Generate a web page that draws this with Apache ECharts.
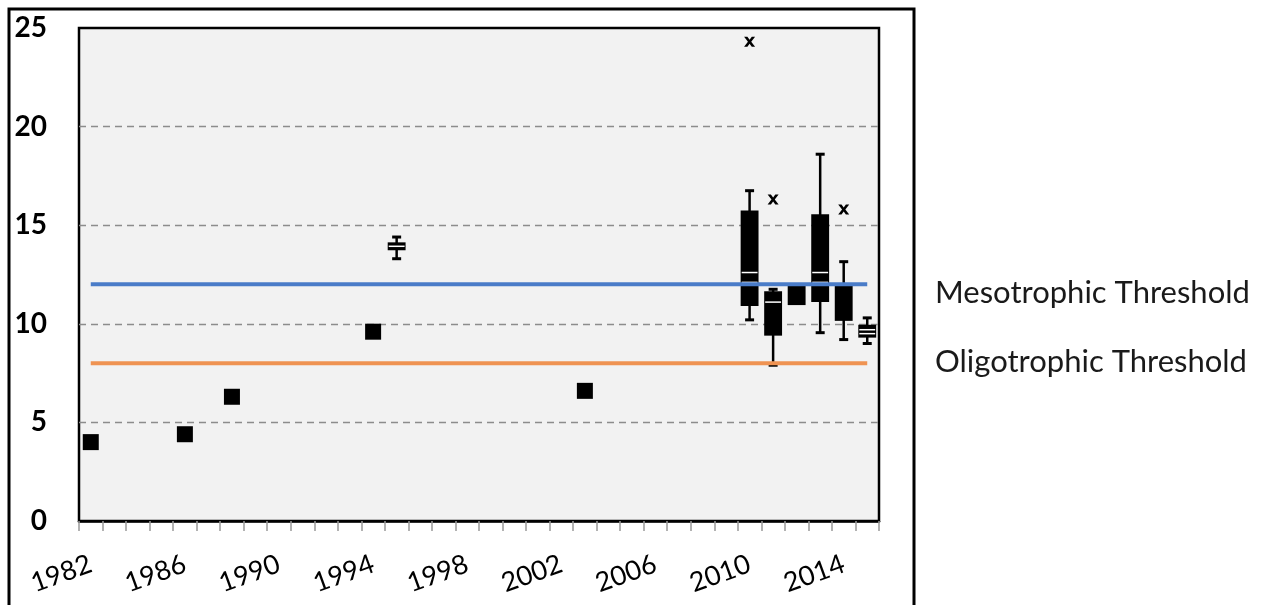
<!DOCTYPE html>
<html>
<head>
<meta charset="utf-8">
<script src="https://cdn.jsdelivr.net/npm/echarts@6/dist/echarts.min.js"></script>
<style>
html,body{margin:0;padding:0;background:#fff;}
#main{width:1265px;height:605px;}
</style>
</head>
<body>
<div id="main"></div>
<script>
// categories (one per year)
var years = ['1982','1983','1984','1985','1986','1987','1988','1989','1990','1991',
	'1992','1993','1994','1995','1996','1997','1998','1999','2000','2001','2002',
	'2003','2004','2005','2006','2007','2008','2009','2010','2011','2012','2013',
	'2014','2015'];
var yTicks = [0, 5, 10, 15, 20, 25];

// single samples
var pointYears = ['1982', '1986', '1988', '1994', '2003'];
var pointValues = [4.0, 4.4, 6.3, 9.6, 6.6];

// box plots
var boxYears  = ['1995', '2010', '2011', '2012', '2013', '2014', '2015'];
var boxMin    = [13.3, 10.2, 7.9, 11.0, 9.55, 9.2, 9.0];
var boxQ1     = [13.78, 10.95, 9.45, 11.0, 11.15, 10.2, 9.35];
var boxMedian = [13.93, 12.1, 11.1, null, 12.1, null, 9.5];
var boxMean   = [null, 12.6, null, null, 12.6, null, 9.7];
var boxQ3     = [14.08, 15.7, 11.6, 11.9, 15.5, 11.9, 9.9];
var boxMax    = [14.4, 16.75, 11.75, 11.9, 18.6, 13.15, 10.3];

// outliers
var outlierYears = ['2010', '2011', '2014'];
var outlierValues = [24.3, 16.3, 15.8];

// thresholds
var mesoThreshold = 12;
var oligoThreshold = 8;

var chart = echarts.init(document.getElementById('main'));

function renderBox(params, api) {
	var i = params.dataIndex;
	var cat = api.value(0);
	var w = api.size([1, 0])[0] * 0.76;
	var cap = 9;
	var x = api.coord([cat, boxQ1[i]])[0];
	var yMin = api.coord([cat, boxMin[i]])[1];
	var yQ1 = api.coord([cat, boxQ1[i]])[1];
	var yQ3 = api.coord([cat, boxQ3[i]])[1];
	var yMax = api.coord([cat, boxMax[i]])[1];
	var kids = [];
	kids.push({type: 'line', shape: {x1: x, y1: yMax, x2: x, y2: yMin},
		style: {stroke: '#000', lineWidth: 2.5}});
	if (boxMax[i] > boxQ3[i]) {
		kids.push({type: 'line', shape: {x1: x - cap / 2, y1: yMax, x2: x + cap / 2, y2: yMax},
			style: {stroke: '#000', lineWidth: 3}});
	}
	if (boxMin[i] < boxQ1[i]) {
		kids.push({type: 'line', shape: {x1: x - cap / 2, y1: yMin, x2: x + cap / 2, y2: yMin},
			style: {stroke: '#000', lineWidth: 3}});
	}
	kids.push({type: 'rect', shape: {x: x - w / 2, y: yQ3 - 1, width: w, height: yQ1 - yQ3 + 2},
		style: {fill: '#000'}});
	[boxMedian[i], boxMean[i]].forEach(function (v) {
		if (v == null) return;
		var yy = api.coord([cat, v])[1];
		kids.push({type: 'line', shape: {x1: x - w / 2 + 1, y1: yy, x2: x + w / 2 - 1, y2: yy},
			style: {stroke: '#fff', lineWidth: 1.5}});
	});
	return {type: 'group', children: kids};
}

var option = {
	animation: false,
	backgroundColor: '#fff',
	grid: {
		left: 79, right: 386, top: 28, bottom: 84,
		show: true,
		backgroundColor: '#f2f2f2',
		borderColor: '#000',
		borderWidth: 2.5
	},
	xAxis: {
		type: 'category',
		data: years,
		boundaryGap: true,
		axisLine: {lineStyle: {color: '#000', width: 2.5}},
		axisTick: {show: true, interval: 0, length: 10, lineStyle: {color: '#999', width: 1.5}},
		axisLabel: {
			interval: 3,
			rotate: 20,
			margin: 42,
			fontFamily: 'Lato',
			fontSize: 27,
			color: '#000'
		},
		splitLine: {show: false}
	},
	yAxis: {
		type: 'value',
		min: yTicks[0],
		max: yTicks[yTicks.length - 1],
		interval: 5,
		axisLine: {show: false},
		axisTick: {show: false},
		axisLabel: {
			margin: 32,
			fontFamily: 'Lato',
			fontWeight: 'bold',
			fontSize: 28,
			color: '#000'
		},
		splitLine: {
			show: true,
			showMinLine: false,
			showMaxLine: false,
			lineStyle: {color: '#8c8c8c', width: 1.3, type: [7, 5]}
		}
	},
	series: [
		{
			type: 'custom',
			z: 2,
			renderItem: renderBox,
			encode: {x: 0, y: [1, 2]},
			data: boxYears.map(function (y, i) { return [y, boxMin[i], boxMax[i]]; })
		},
		{
			type: 'scatter',
			z: 3,
			symbol: 'rect',
			symbolSize: 16,
			itemStyle: {color: '#000', opacity: 1},
			data: pointYears.map(function (y, i) { return [y, pointValues[i]]; })
		},
		{
			type: 'scatter',
			z: 3,
			symbol: 'path://M0,0h3l2,3l2,-3h3l-3.5,5l3.5,5h-3l-2,-3l-2,3h-3l3.5,-5z',
			symbolSize: [11, 10],
			itemStyle: {color: '#000', opacity: 1},
			data: outlierYears.map(function (y, i) { return [y, outlierValues[i]]; })
		},
		{
			type: 'line',
			z: 4,
			showSymbol: false,
			lineStyle: {color: '#4a7cc8', width: 4},
			data: [[years[0], mesoThreshold], [years[years.length - 1], mesoThreshold]]
		},
		{
			type: 'line',
			z: 4,
			showSymbol: false,
			lineStyle: {color: '#ef9352', width: 4},
			data: [[years[0], oligoThreshold], [years[years.length - 1], oligoThreshold]]
		}
	],
	graphic: [
		{
			type: 'rect',
			silent: true,
			z: 100,
			shape: {x: 9, y: 9, width: 905, height: 620},
			style: {fill: null, stroke: '#000', lineWidth: 3}
		},
		{
			type: 'text',
			silent: true,
			style: {x: 935, y: 293, text: 'Mesotrophic Threshold', fontFamily: 'Lato',
				fontSize: 31, fill: '#1a1a1a', verticalAlign: 'middle'}
		},
		{
			type: 'text',
			silent: true,
			style: {x: 935, y: 362, text: 'Oligotrophic Threshold', fontFamily: 'Lato',
				fontSize: 31, fill: '#1a1a1a', verticalAlign: 'middle'}
		}
	]
};
chart.setOption(option);
</script>
</body>
</html>
